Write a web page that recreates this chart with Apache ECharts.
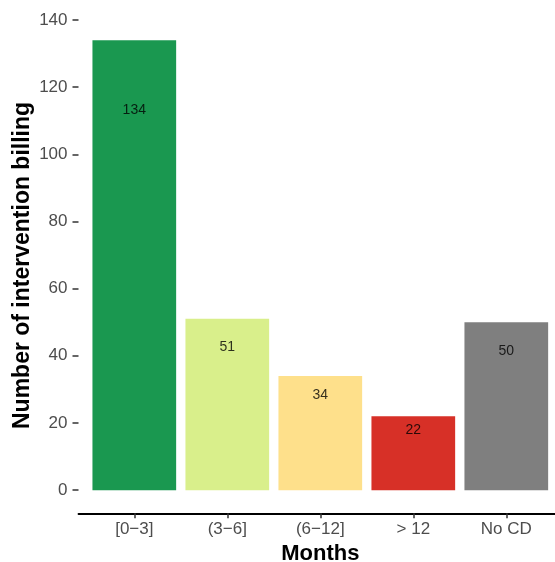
<!DOCTYPE html>
<html>
<head>
<meta charset="utf-8">
<script src="https://cdn.jsdelivr.net/npm/echarts@6/dist/echarts.min.js"></script>
<style>
html,body{margin:0;padding:0;background:#fff;}
#chart{width:555px;height:562px;}
</style>
</head>
<body>
<div id="chart"></div>
<script>
const categories = ['[0\u22123]', '(3\u22126]', '(6\u221212]', '> 12', 'No CD'];
const values = [134, 51, 34, 22, 50];
const colors = ['#1A9850', '#D9EF8B', '#FEE08B', '#D73027', '#7F7F7F'];
const labelY = [113.7, 42.9, 28.6, 18.4, 41.9];
const yTicks = [0, 20, 40, 60, 80, 100, 120, 140];
const xPositions = [1, 2, 3, 4, 5];

const chart = echarts.init(document.getElementById('chart'), null, {renderer: 'canvas'});
const font = 'Liberation Sans, Arial, sans-serif';

chart.setOption({
  animation: false,
  backgroundColor: '#ffffff',
  grid: {left: 78.5, right: -7.1, top: 17.65, bottom: 48.7, containLabel: false, outerBoundsMode: 'none'},
  xAxis: {
    type: 'value', min: 0.4, max: 5.6,
    name: 'Months', nameLocation: 'middle', nameGap: 30, nameMoveOverlap: false,
    nameTextStyle: {fontFamily: font, fontWeight: 'bold', fontSize: 22, color: '#000'},
    axisLine: {show: true, onZero: false, lineStyle: {color: '#000', width: 1.8}},
    axisTick: {show: true, customValues: xPositions, length: 5, lineStyle: {color: '#333', width: 1.5}},
    axisLabel: {show: true, customValues: xPositions, margin: 8, color: '#4D4D4D', fontFamily: font, fontSize: 17,
      formatter: v => categories[Math.round(v) - 1] || ''},
    splitLine: {show: false}
  },
  yAxis: {
    type: 'value', min: -6.9, max: 140.7,
    name: 'Number of intervention billing', nameLocation: 'middle', nameGap: 44, nameMoveOverlap: false,
    nameTextStyle: {fontFamily: font, fontWeight: 'bold', fontSize: 23, color: '#000'},
    axisLine: {show: false},
    axisTick: {show: true, customValues: yTicks, length: 6, lineStyle: {color: '#333', width: 1.5}},
    axisLabel: {show: true, customValues: yTicks, margin: 11, color: '#4D4D4D', fontFamily: font, fontSize: 17},
    splitLine: {show: false}
  },
  series: [
    {
      type: 'bar',
      barWidth: 83.7,
      data: values.map((v, i) => ({value: [xPositions[i], v], itemStyle: {color: colors[i]}})),
      label: {show: false}
    },
    {
      type: 'scatter',
      symbolSize: 0,
      silent: true,
      data: labelY.map((y, i) => [xPositions[i], y, values[i]]),
      label: {show: true, position: 'inside', offset: [0, 1.5], color: '#000', fontFamily: font, fontSize: 14,
        formatter: p => String(p.data[2])}
    }
  ]
});
</script>
</body>
</html>
